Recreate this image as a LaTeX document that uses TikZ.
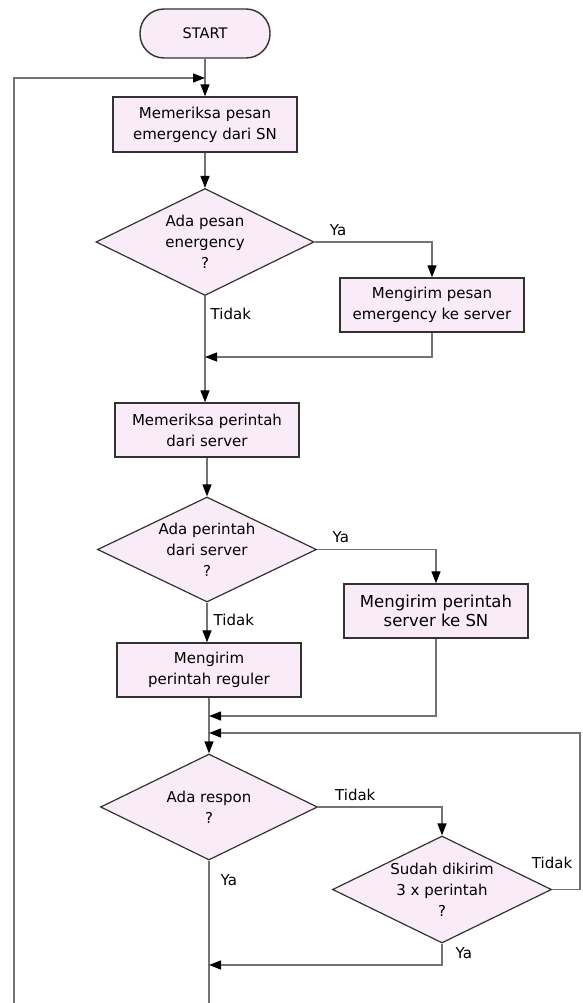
\documentclass[tikz,border=0pt]{standalone}
\usepackage{fontspec}
\setmainfont{DejaVu Sans}
\usetikzlibrary{shapes.geometric,arrows.meta}
\definecolor{isi}{RGB}{249,235,247}
\definecolor{tepi}{RGB}{50,50,50}
\definecolor{abu}{RGB}{115,115,115}
\begin{document}
\begin{tikzpicture}[x=1pt,y=-1pt,
  huruf/.style={font=\fontsize{15}{21}\selectfont},
  kotak/.style={draw=tepi,fill=isi,line width=1.4pt,huruf,align=center,minimum width=184pt,minimum height=54pt,inner sep=2pt},
  belah/.style={diamond,aspect=2,draw=tepi,fill=isi,line width=1.2pt,huruf,align=center,inner sep=0pt,minimum width=218pt,minimum height=106pt},
  garis/.style={draw=abu,line width=1.3pt},
  panah/.style={garis,-{Triangle[length=12pt,width=9pt,color=black]}},
  ket/.style={huruf,inner sep=3pt}]
\useasboundingbox (0,0) rectangle (582,1003);
\node[kotak,rounded corners=24pt,minimum width=130pt,minimum height=49pt,font=\fontsize{14.5}{16}\selectfont] (mulai) at (205,33.5) {START};
\node[kotak,minimum height=55pt] (cek1) at (205,124.5) {Memeriksa pesan\\emergency dari SN};
\node[belah,minimum height=107pt] (tanya1) at (205,242) {Ada pesan\\energency\\?};
\node[kotak] (kirim1) at (432,305) {Mengirim pesan\\emergency ke server};
\node[kotak] (cek2) at (207,430) {Memeriksa perintah\\dari server};
\node[belah,minimum width=219pt,minimum height=105pt] (tanya2) at (207,549.5) {Ada perintah\\dari server\\?};
\node[kotak,font=\fontsize{16.5}{18.5}\selectfont] (kirim2) at (436,611) {Mengirim perintah\\server ke SN};
\node[kotak] (reguler) at (209,670) {Mengirim\\perintah reguler};
\node[belah,minimum width=217pt] (tanya3) at (209,807) {Ada respon\\?};
\node[belah,minimum width=219pt,minimum height=107pt] (tanya4) at (442,889.5) {Sudah dikirim\\3 x perintah\\?};
\coordinate (kiri) at (14,1003);
\coordinate (bawah) at (209,1003);
\coordinate (balik) at (205,78);
\coordinate (gabung1) at (205,357);
\coordinate (gabung2) at (209,716);
\coordinate (gabung3) at (209,733);
\coordinate (gabung4) at (209,965);
\draw[panah] (mulai) -- (cek1);
\draw[panah] (kiri) |- (balik);
\draw[panah] (cek1) -- (tanya1);
\draw[panah] (tanya1.east) -| node[pos=0.1,above,ket,yshift=3pt]{Ya} (kirim1.north);
\draw[panah] (tanya1.south) -- node[pos=0.17,right,ket,xshift=2pt]{Tidak} (tanya1.south |- cek2.north);
\draw[panah] (kirim1.south) |- (gabung1);
\draw[panah] (cek2) -- (tanya2);
\draw[panah] (tanya2.east) -| node[pos=0.1,above,ket,yshift=3pt]{Ya} (kirim2.north);
\draw[panah] (tanya2.south) -- node[pos=0.44,right,ket,xshift=3pt]{Tidak} (tanya2.south |- reguler.north);
\draw[panah] (reguler) -- (tanya3);
\draw[panah] (kirim2.south) |- (gabung2);
\draw[panah] (tanya3.east) -| node[pos=0.15,above,ket,yshift=3pt]{Tidak} (tanya4.north);
\draw[garis] (tanya3) -- node[pos=0.14,right,ket,xshift=8pt]{Ya} (bawah);
\draw[panah] (tanya4.south) |- node[pos=0.23,right,ket,xshift=10pt]{Ya} (gabung4);
\draw[panah] (tanya4.east) node[above=17pt,ket]{Tidak} -- ++(28,0) |- (gabung3);
\end{tikzpicture}
\end{document}
